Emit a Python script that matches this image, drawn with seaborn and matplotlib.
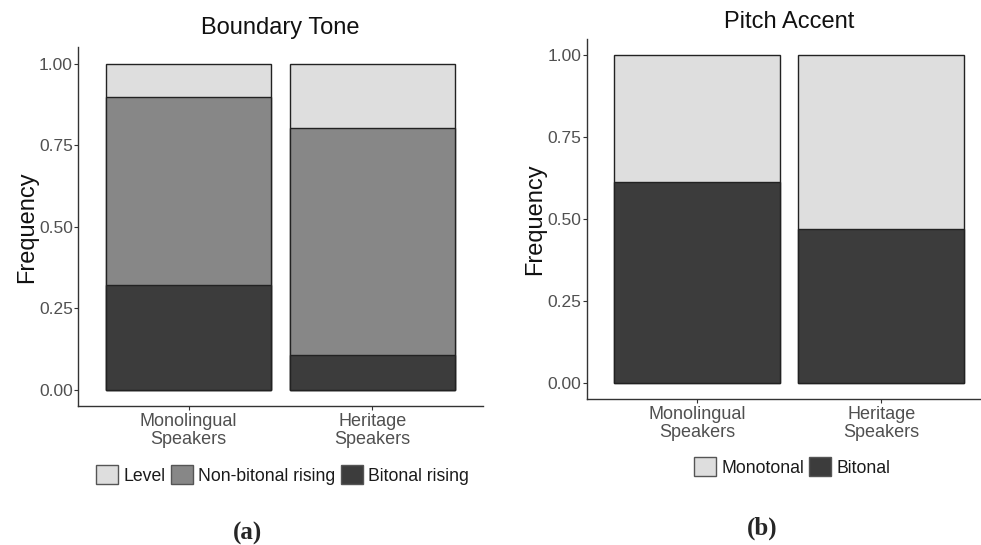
import matplotlib
matplotlib.use("Agg")
import matplotlib.pyplot as plt
import seaborn as sns
import pandas as pd
import numpy as np
from matplotlib.patches import Patch

# ---- data ----
groups = ["Monolingual\nSpeakers", "Heritage\nSpeakers"]
bt_categories = ["Level", "Non-bitonal rising", "Bitonal rising"]
bt_level = [0.103, 0.197]
bt_nonbitonal = [0.576, 0.698]
bt_bitonal = [0.321, 0.105]
pa_categories = ["Monotonal", "Bitonal"]
pa_monotonal = [0.387, 0.532]
pa_bitonal = [0.613, 0.468]
yticks = [0.0, 0.25, 0.5, 0.75, 1.0]
ytick_labels = ["0.00", "0.25", "0.50", "0.75", "1.00"]

c_light, c_mid, c_dark = "#DEDEDE", "#878787", "#3C3C3C"

sns.set_theme(style="white")
plt.rcParams['font.family'] = ['Liberation Sans', 'DejaVu Sans']

fig = plt.figure(figsize=(9.81, 5.45), dpi=100)
axL = fig.add_axes([0.080, 0.255, 0.412, 0.658])
axR = fig.add_axes([0.598, 0.268, 0.413, 0.661])


def stacked(ax, layers, colors):
    # layers listed bottom -> top; draw cumulative totals from top to bottom
    cum = np.cumsum(np.array(layers), axis=0)
    for i in range(len(layers) - 1, -1, -1):
        df = pd.DataFrame({"group": groups, "value": cum[i]})
        sns.barplot(data=df, x="group", y="value", color=colors[i], width=0.9,
                    edgecolor="#222222", linewidth=1.0, saturation=1, ax=ax)


stacked(axL, [bt_bitonal, bt_nonbitonal, bt_level], [c_dark, c_mid, c_light])
stacked(axR, [pa_bitonal, pa_monotonal], [c_dark, c_light])

for ax, title, tpad in [(axL, "Boundary Tone", 10), (axR, "Pitch Accent", 8)]:
    ax.set_xlim(-0.6, 1.6)
    ax.set_ylim(-0.05, 1.05)
    ax.set_yticks(yticks)
    ax.set_yticklabels(ytick_labels)
    ax.set_xlabel("")
    ax.set_ylabel("Frequency", fontsize=17, color="#111111", labelpad=1)
    ax.set_title(title, fontsize=17, color="#111111", pad=tpad)
    for s in ["top", "right"]:
        ax.spines[s].set_visible(False)
    for s in ["left", "bottom"]:
        ax.spines[s].set_color("#333333")
        ax.spines[s].set_linewidth(1.0)
    ax.tick_params(axis="y", which="both", length=3, width=0.8, color="#333333",
                   labelsize=12.5, labelcolor="#505050", pad=1, left=True)
    ax.tick_params(axis="x", which="both", length=3, width=0.8, color="#333333",
                   labelsize=13, labelcolor="#505050", pad=2, bottom=True)
    for lab in ax.get_xticklabels():
        lab.set_linespacing(1.1)

legkw = dict(loc="center", ncol=3, frameon=False, fontsize=12.7, handlelength=1.25,
             handleheight=1.25, handletextpad=0.3, columnspacing=0.3,
             labelcolor="#1a1a1a")
fig.legend(handles=[Patch(facecolor=c, edgecolor="#555555", label=l)
                    for c, l in zip([c_light, c_mid, c_dark], bt_categories)],
           bbox_to_anchor=(282.5 / 981, 1 - 475 / 545), **legkw)
legkw["ncol"] = 2
fig.legend(handles=[Patch(facecolor=c, edgecolor="#555555", label=l)
                    for c, l in zip([c_light, c_dark], pa_categories)],
           bbox_to_anchor=(792 / 981, 1 - 467 / 545), **legkw)

fig.text(248 / 981, 1 - 533 / 545, "(a)", ha="center", va="center", fontsize=18,
         fontweight="bold", family=["Liberation Serif", "DejaVu Serif"])
fig.text(762 / 981, 1 - 528 / 545, "(b)", ha="center", va="center", fontsize=18,
         fontweight="bold", family=["Liberation Serif", "DejaVu Serif"])

fig.savefig("out.png", dpi=100)
